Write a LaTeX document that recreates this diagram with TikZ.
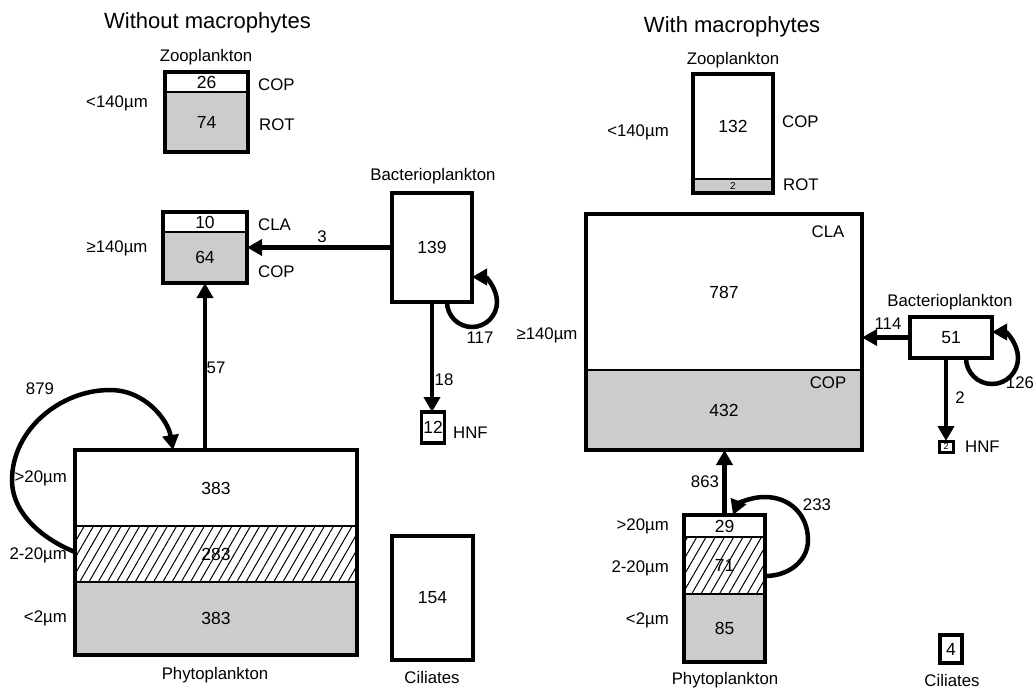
\documentclass[tikz,border=0pt]{standalone}
\usepackage{fontspec}
\setmainfont{Liberation Sans}
\usetikzlibrary{arrows.meta,calc,fit,patterns.meta}
\definecolor{stip}{gray}{0.80}
\begin{document}
\begin{tikzpicture}[x=1pt,y=-1pt,
  lbl/.style={font=\fontsize{16.8}{19}\selectfont, inner sep=0pt},
  ttl/.style={font=\fontsize{22}{24}\selectfont, inner sep=0pt},
  cell/.style={draw, line width=1.2pt, inner sep=0pt, outer sep=0pt, font=\fontsize{17.5}{19}\selectfont, anchor=center},
  wcell/.style={cell, fill=white},
  gcell/.style={cell, fill=stip},
  hcell/.style={cell, pattern={Lines[angle=60,distance=8pt,line width=1pt]}},
  frame/.style={draw, line width=3.5pt, inner sep=0pt, outer sep=0pt},
  flow/.style={line width=4.5pt, -{Triangle[length=15pt,width=16pt]}},
]
\useasboundingbox (0,0) rectangle (1033,688);

% ================= LEFT PANEL =================
\node[ttl] (tL) at (207.5,23) {Without macrophytes};
\node[lbl] (zootL) at (206,57) {Zooplankton};
\node[wcell, minimum width=83pt, minimum height=20pt] (zooLa) at (206.5,82) {26};
\node[gcell, minimum width=83pt, minimum height=60pt] (zooLb) at (206.5,122) {74};
\node[frame, fit=(zooLa)(zooLb)] (zooL) {};
\node[lbl, anchor=west] (copL1) at (258,85) {COP};
\node[lbl, anchor=west] (rotL) at (259,125) {ROT};
\node[lbl] (s140L) at (117,103) {<140µm};

\node[wcell, minimum width=84pt, minimum height=20pt] (gLa) at (205,222) {10};
\node[gcell, minimum width=84pt, minimum height=51pt] (gLb) at (205,257.5) {64};
\node[frame, fit=(gLa)(gLb)] (gL) {};
\node[lbl, anchor=west] (claL) at (258,225) {CLA};
\node[lbl, anchor=west] (copL2) at (258,272) {COP};
\node[lbl] (g140L) at (117,248) {≥140µm};

\node[lbl] (bactL) at (433,176) {Bacterioplankton};
\node[frame, fill=white, minimum width=80pt, minimum height=109pt, font=\fontsize{17.5}{19}\selectfont] (bacL) at (432,247.5) {139};

\node[frame, fill=white, minimum width=23pt, minimum height=31pt, font=\fontsize{17.5}{19}\selectfont] (hnfL) at (433,427.5) {12};
\node[lbl, anchor=west] (hnftL) at (453,433) {HNF};

\node[wcell, minimum width=282pt, minimum height=76pt] (phyLa) at (216,488) {383};
\node[hcell, minimum width=282pt, minimum height=56pt] (phyLb) at (216,554) {283};
\node[gcell, minimum width=282pt, minimum height=73pt] (phyLc) at (216,618.5) {383};
\node[frame, fit=(phyLa)(phyLc)] (phyL) {};
\node[lbl, anchor=east] (p20L) at (67,478) {>20µm};
\node[lbl, anchor=east] (p220L) at (67,555) {2-20µm};
\node[lbl, anchor=east] (p2L) at (67,618) {<2µm};
\node[lbl] (phytL) at (215,675) {Phytoplankton};

\node[frame, fill=white, minimum width=81pt, minimum height=124pt, font=\fontsize{17.5}{19}\selectfont] (ciL) at (432.5,598) {154};
\node[lbl] (citL) at (432,677) {Ciliates};

% connectors left
\draw[flow] (bacL.west) -- (gL.east |- bacL.west);
\draw[flow] (gL.south |- phyL.north) -- (gL.south);
\draw[flow] (bacL.south) -- (bacL.south |- hnfL.north);
\coordinate (cL) at (bacL.south east);
\draw[flow] ($(cL)+(-25,0)$) .. controls ($(cL)+(-25,13.8)$) and ($(cL)+(-13.8,25)$) .. ($(cL)+(0,25)$)
  .. controls ($(cL)+(13.8,25)$) and ($(cL)+(25,13.8)$) .. ($(cL)+(25,0)$)
  .. controls ($(cL)+(25,-13.8)$) and ($(cL)+(13.8,-25)$) .. ($(cL)+(0,-25)$);
\draw[flow] ($(phyL.north west)+(0,102)$) .. controls (45,540) and (12,515) .. (12,480)
  .. controls (12,430) and (60,390) .. (110,390)
  .. controls (145,390) and (168,420) .. ($(phyL.north west)+(98,0)$);

\node[lbl] (l3) at (322,237) {3};
\node[lbl] (l57) at (216,368) {57};
\node[lbl] (l879) at (40,389) {879};
\node[lbl] (l117) at (480,338) {117};
\node[lbl] (l18) at (444,380) {18};

% ================= RIGHT PANEL =================
\node[ttl] (tR) at (732,27) {With macrophytes};
\node[lbl] (zootR) at (733,60) {Zooplankton};
\node[wcell, minimum width=80pt, minimum height=105pt] (zooRa) at (733,126.5) {132};
\node[gcell, minimum width=80pt, minimum height=14pt, font=\fontsize{10}{11}\selectfont] (zooRb) at (733,186) {2};
\node[frame, fit=(zooRa)(zooRb)] (zooR) {};
\node[lbl, anchor=west] (copR1) at (782,122) {COP};
\node[lbl, anchor=west] (rotR) at (783,185) {ROT};
\node[lbl] (s140R) at (638,132) {<140µm};

\node[wcell, minimum width=276pt, minimum height=156pt] (bigRa) at (724,292) {787};
\node[gcell, minimum width=276pt, minimum height=80pt] (bigRb) at (724,410) {432};
\node[frame, fit=(bigRa)(bigRb)] (bigR) {};
\node[lbl] (claR) at (828,232) {CLA};
\node[lbl] (copR2) at (828,383) {COP};
\node[lbl] (g140R) at (547,335) {≥140µm};

\node[lbl] (bactR) at (950,302) {Bacterioplankton};
\node[frame, fill=white, minimum width=82pt, minimum height=41pt, font=\fontsize{17.5}{19}\selectfont] (bacR) at (951,337.5) {51};

\node[frame, line width=3pt, fill=white, minimum width=14pt, minimum height=11pt, font=\fontsize{9}{10}\selectfont] (hnfR) at (946,446.5) {2};
\node[lbl, anchor=west] (hnftR) at (965,447) {HNF};

\node[wcell, minimum width=81pt, minimum height=22pt] (phyRa) at (724.5,526) {29};
\node[hcell, minimum width=81pt, minimum height=57pt] (phyRb) at (724.5,565.5) {71};
\node[gcell, minimum width=81pt, minimum height=68pt] (phyRc) at (724.5,628) {85};
\node[frame, fit=(phyRa)(phyRc)] (phyR) {};
\node[lbl, anchor=east] (p20R) at (669,526) {>20µm};
\node[lbl, anchor=east] (p220R) at (669,568) {2-20µm};
\node[lbl, anchor=east] (p2R) at (669,620) {<2µm};
\node[lbl] (phytR) at (725,680) {Phytoplankton};

\node[frame, fill=white, minimum width=22pt, minimum height=28pt, font=\fontsize{17.5}{19}\selectfont] (ciR) at (951,649) {4};
\node[lbl] (citR) at (952,680) {Ciliates};

% connectors right
\draw[flow] (bacR.west) -- (bigR.east |- bacR.west);
\draw[flow] (hnfR.north |- bacR.south) -- (hnfR.north);
\draw[flow] (phyR.north) -- (phyR.north |- bigR.south);
\coordinate (cR) at (bacR.south east);
\draw[flow] ($(cR)+(-26,0)$) .. controls ($(cR)+(-26,14.4)$) and ($(cR)+(-14.4,26)$) .. ($(cR)+(0,26)$)
  .. controls ($(cR)+(14.4,26)$) and ($(cR)+(26,14.4)$) .. ($(cR)+(26,0)$)
  .. controls ($(cR)+(26,-14.4)$) and ($(cR)+(14.4,-26)$) .. ($(cR)+(0,-26)$);
\draw[flow] ($(phyR.north east)+(0,61)$) .. controls (790,576) and (808,560) .. (808,540)
  .. controls (808,515) and (790,497) .. (765,497)
  .. controls (748,497) and (737,505) .. ($(phyR.north west)+(49,0)$);

\node[lbl] (l114) at (888,324) {114};
\node[lbl] (l126) at (1020,383) {126};
\node[lbl] (l2) at (960,398) {2};
\node[lbl] (l863) at (705,482) {863};
\node[lbl] (l233) at (817,505) {233};
\end{tikzpicture}
\end{document}
